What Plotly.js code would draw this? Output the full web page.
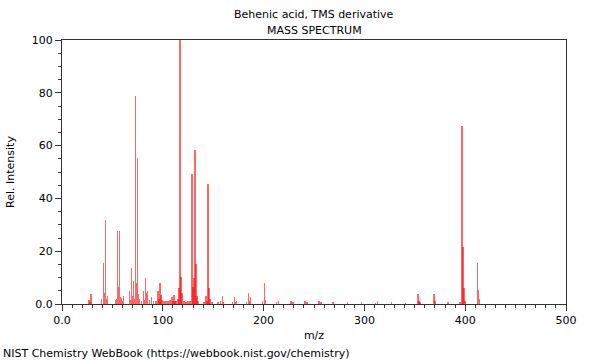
<!DOCTYPE html>
<html>
<head>
<meta charset="utf-8">
<script src="https://cdn.plot.ly/plotly-3.0.1.min.js"></script>
<style>html,body{margin:0;padding:0;background:#fff;}#chart{width:600px;height:360px;}</style>
</head>
<body>
<div id="chart"></div>
<script>
const titleLine1 = "Behenic acid, TMS derivative";
const titleLine2 = "MASS SPECTRUM";
const footer = "NIST Chemistry WebBook (https://webbook.nist.gov/chemistry)";

const mz = [27,28,29,39,41,42,43,44,45,53,54,55,56,57,58,59,60,61,67,68,69,70,71,72,73,74,75,76,77,79,81,82,83,84,85,87,89,91,93,95,96,97,98,99,101,103,105,107,109,110,111,112,113,115,116,117,118,119,121,123,125,127,129,130,131,132,133,134,135,141,143,144,145,146,147,149,155,157,159,160,169,171,172,173,183,185,186,187,199,201,202,213,215,227,229,241,243,255,257,269,283,297,311,313,327,341,353,354,355,369,370,383,395,397,398,399,400,412,413,414];
const intensity = [1.5,0.8,3.8,1.8,15.6,4.0,32.0,2.0,3.0,1.5,2.0,27.5,6.6,27.5,2.8,2.2,1.0,3.0,5.0,1.5,13.5,3.0,8.8,2.0,78.8,7.9,55.2,3.8,2.0,1.0,5.0,1.5,9.9,4.0,5.0,1.5,2.6,1.0,1.2,5.0,2.0,8.0,3.5,1.5,1.0,1.3,1.0,1.5,2.5,1.0,3.6,1.0,1.2,2.0,6.2,100,10.1,4.0,1.0,0.8,1.0,1.2,49.2,6.3,10.0,58.5,15.0,3.2,1.0,0.6,3.2,1.0,45.4,6.1,2.0,0.8,0.6,1.0,3.1,0.8,0.6,2.5,0.8,1.0,0.6,4.2,1.2,2.8,1.2,7.8,1.5,0.8,1.0,1.2,0.8,1.2,0.8,1.2,0.8,0.8,0.6,0.6,0.5,1.0,0.8,0.5,3.8,1.1,0.6,3.8,1.1,0.6,0.8,67.4,21.7,5.9,1.1,15.4,5.3,1.8];

const xTickVals = [0,100,200,300,400,500];
const xTickText = ["0.0","100","200","300","400","500"];
const yTickVals = [0,20,40,60,80,100];
const yTickText = ["0.0","20","40","60","80","100"];

const font = {family: "DejaVu Sans, sans-serif", size: 11, color: "#000"};
const axisColor = "#333";

const trace = {
  type: "bar",
  x: mz,
  y: intensity,
  width: 1.5,
  marker: {color: "rgba(255,0,0,0.6)", line: {width: 0}},
  hoverinfo: "x+y"
};

const layout = {
  width: 600, height: 360,
  margin: {l: 62, r: 34, t: 40, b: 56},
  paper_bgcolor: "#fff", plot_bgcolor: "#fff",
  font: font,
  showlegend: false,
  bargap: 0,
  xaxis: {
    range: [0, 500],
    tickmode: "array", tickvals: xTickVals, ticktext: xTickText,
    ticks: "outside", ticklen: 6, tickwidth: 1, tickcolor: axisColor,
    minor: {dtick: 10, tick0: 0, ticks: "outside", ticklen: 3, tickcolor: axisColor, tickwidth: 1, showgrid: false},
    showline: true, linecolor: axisColor, linewidth: 1, mirror: true,
    showgrid: false, zeroline: false,
    tickfont: font,
    title: {text: "m/z", font: font, standoff: 5}
  },
  yaxis: {
    range: [0, 100],
    tickmode: "array", tickvals: yTickVals, ticktext: yTickText,
    ticks: "outside", ticklen: 6, tickwidth: 1, tickcolor: axisColor,
    minor: {dtick: 5, tick0: 0, ticks: "outside", ticklen: 3, tickcolor: axisColor, tickwidth: 1, showgrid: false},
    showline: true, linecolor: axisColor, linewidth: 1, mirror: true,
    showgrid: false, zeroline: false,
    tickfont: font,
    title: {text: "Rel. Intensity", font: font, standoff: 14}
  },
  annotations: [
    {text: titleLine1, xref: "paper", yref: "paper", x: 0.5, y: 1.098,
     xanchor: "center", yanchor: "middle", showarrow: false, font: font},
    {text: titleLine2, xref: "paper", yref: "paper", x: 0.5, y: 1.036,
     xanchor: "center", yanchor: "middle", showarrow: false, font: font},
    {text: footer, xref: "paper", yref: "paper",
     x: -0.121, y: -0.186, xanchor: "left", yanchor: "middle",
     showarrow: false, font: font}
  ]
};

Plotly.newPlot("chart", [trace], layout, {staticPlot: true, displayModeBar: false});
</script>
</body>
</html>
